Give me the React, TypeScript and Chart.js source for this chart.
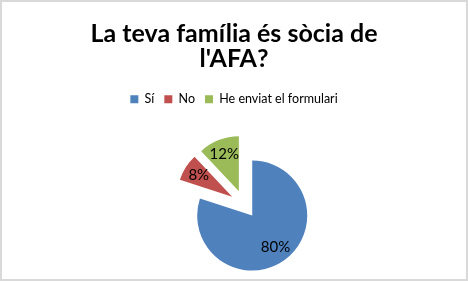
import React, { useEffect, useRef } from "react";
import { Chart, registerables } from "chart.js";

Chart.register(...registerables);

const titleLines = ["La teva família és sòcia de", "l'AFA?"];
const categories = ["Sí", "No", "He enviat el formulari"];
const values = [80, 8, 12];
const colors = ["#4F81BD", "#C0504D", "#9BBB59"];

const EXPLODE = 14;
const LABEL_POS = 0.72;
const LEGEND_EXTRA = 14;
const AREA_SHIFT_LEFT = 20;

const explodePlugin = {
  id: "explodeSlices",
  beforeInit(chart: any) {
    const legend = chart.legend;
    if (legend && !legend._patched) {
      const fit = legend.fit;
      legend.fit = function () {
        fit.call(this);
        this.height += LEGEND_EXTRA;
      };
      legend._patched = true;
    }
  },
  afterLayout(chart: any) {
    chart.chartArea.left += AREA_SHIFT_LEFT;
    chart.chartArea.width = chart.chartArea.right - chart.chartArea.left;
  },
  afterDatasetUpdate(chart: any, args: any) {
    const meta = args.meta;
    meta.data.forEach((arc: any) => {
      const mid = (arc.startAngle + arc.endAngle) / 2;
      arc.x += Math.cos(mid) * EXPLODE;
      arc.y += Math.sin(mid) * EXPLODE;
    });
  },
  afterDatasetsDraw(chart: any) {
    const ctx = chart.ctx;
    const meta = chart.getDatasetMeta(0);
    const data = chart.data.datasets[0].data as number[];
    const total = data.reduce((a, b) => a + b, 0);
    ctx.save();
    ctx.font = "15px Lato";
    ctx.fillStyle = "#000000";
    ctx.textAlign = "center";
    ctx.textBaseline = "middle";
    meta.data.forEach((arc: any, i: number) => {
      const mid = (arc.startAngle + arc.endAngle) / 2;
      const r = arc.outerRadius * LABEL_POS;
      const x = arc.x + Math.cos(mid) * r;
      const y = arc.y + Math.sin(mid) * r;
      ctx.fillText(Math.round((data[i] / total) * 100) + "%", x, y);
    });
    ctx.restore();
  },
};

export default function App() {
  const ref = useRef<HTMLCanvasElement>(null);
  useEffect(() => {
    document.body.style.margin = "0";
    const chart = new Chart(ref.current!, {
      type: "pie",
      data: {
        labels: categories,
        datasets: [
          {
            data: values,
            backgroundColor: colors,
            borderWidth: 0,
          },
        ],
      },
      options: {
        animation: false,
        responsive: false,
        events: [],
        radius: 55,
        layout: { padding: 0 },
        plugins: {
          title: {
            display: true,
            text: titleLines,
            color: "#000000",
            font: { family: "Lato", size: 25, weight: "bold", lineHeight: 1 },
            padding: { top: 19, bottom: 12 },
          },
          legend: {
            display: true,
            position: "top",
            labels: {
              color: "#000000",
              font: { family: "Lato", size: 12.5 },
              boxWidth: 8,
              boxHeight: 8,
              padding: 10,
            },
          },
          tooltip: { enabled: false },
        },
      } as any,
      plugins: [explodePlugin as any],
    });
    return () => chart.destroy();
  }, []);
  return (
    <div
      style={{
        width: 468,
        height: 281,
        boxSizing: "border-box",
        border: "2px solid #D9D9D9",
        background: "#FFFFFF",
      }}
    >
      <canvas ref={ref} width={464} height={277} style={{ display: "block" }} />
    </div>
  );
}
